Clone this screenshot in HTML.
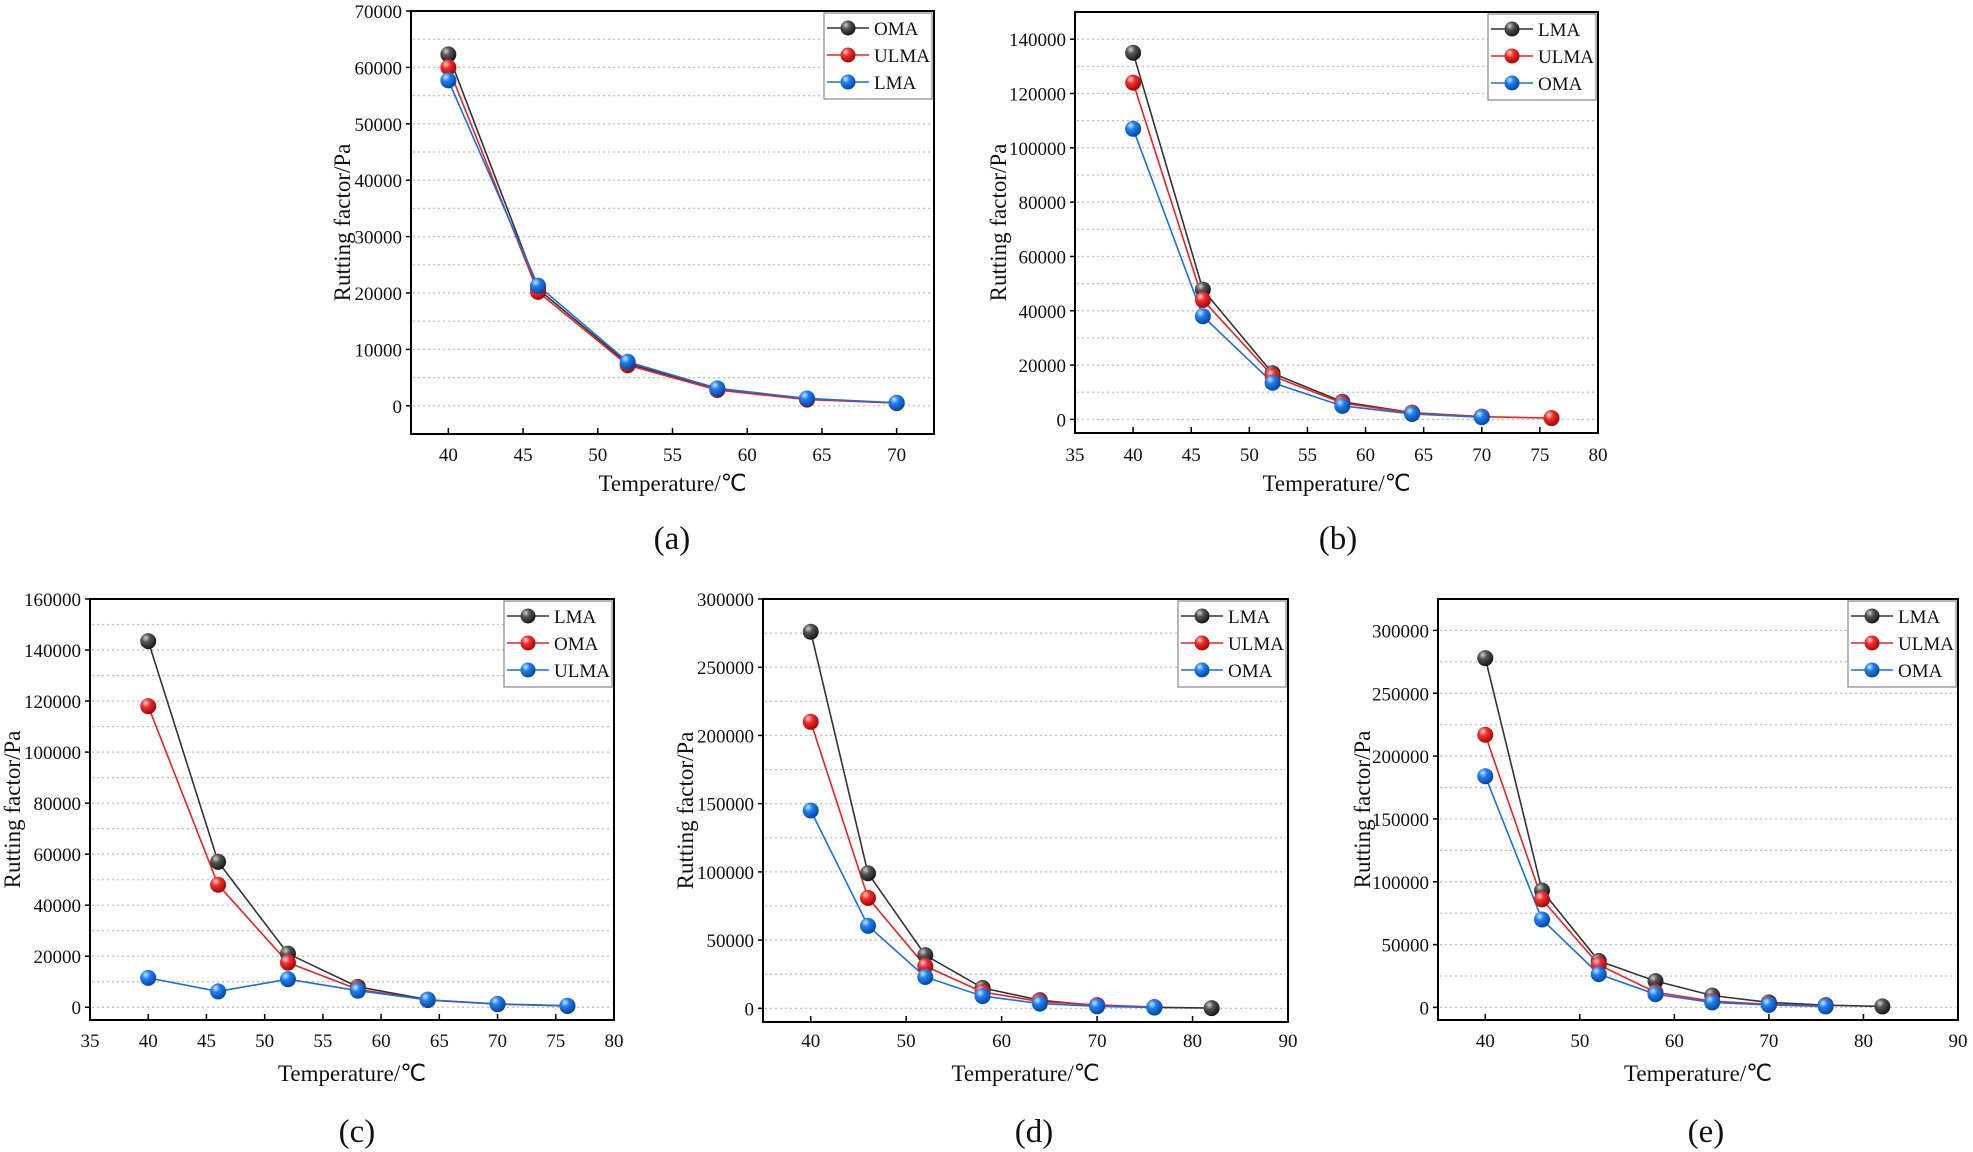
<!DOCTYPE html>
<html><head><meta charset="utf-8">
<style>
html,body{margin:0;padding:0;background:#fff;}
svg{display:block;font-family:"Liberation Serif",serif;}
</style></head>
<body>
<svg id="s" width="1973" height="1152" viewBox="0 0 1973 1152" xmlns="http://www.w3.org/2000/svg">
<defs>
<radialGradient id="gk" cx="0.35" cy="0.3" r="0.75"><stop offset="0" stop-color="#d0d0d0"/><stop offset="0.35" stop-color="#555"/><stop offset="1" stop-color="#111"/></radialGradient>
<radialGradient id="gr" cx="0.35" cy="0.3" r="0.75"><stop offset="0" stop-color="#ffd0d0"/><stop offset="0.35" stop-color="#f03030"/><stop offset="1" stop-color="#a00000"/></radialGradient>
<radialGradient id="gb" cx="0.35" cy="0.3" r="0.75"><stop offset="0" stop-color="#d0e4ff"/><stop offset="0.35" stop-color="#2080f0"/><stop offset="1" stop-color="#0040a0"/></radialGradient>
</defs>
</svg>
<script>
const S=document.getElementById('s');const NS='http://www.w3.org/2000/svg';
function el(t,a,txt){const e=document.createElementNS(NS,t);for(const k in a)e.setAttribute(k,a[k]);if(txt!==undefined)e.textContent=txt;S.appendChild(e);return e;}
const COL={k:['#333','gk'],r:['#f02020','gr'],b:['#1a6fe0','gb']};
const T=[40,46,52,58,64,70,76,82];
const P=[
{L:411,R:934,Tp:11,B:434,x0:37.5,x1:72.5,y0:-5000,y1:70000,yt:10000,gs:5000,xt:[40,45,50,55,60,65,70],yto:69,lab:'(a)',labx:672,laby:549,xty:461,xtt:491,
 s:[['OMA','k',[62300,20700,7500,2900,1200,500]],['ULMA','r',[60000,20200,7200,2800,1100,500]],['LMA','b',[57700,21300,7800,3100,1300,550]]]},
{L:1075,R:1598,Tp:12,B:433,x0:35,x1:80,y0:-5000,y1:150000,yt:20000,gs:10000,xt:[35,40,45,50,55,60,65,70,75,80],yto:77,lab:'(b)',labx:1338,laby:549,xty:461,xtt:491,
 s:[['LMA','k',[135000,47800,17000,6500,2500,1000]],['ULMA','r',[124000,44000,16000,6000,2400,1000,500]],['OMA','b',[107000,38000,13500,5000,2000,800]]]},
{L:90,R:614,Tp:599,B:1020,x0:35,x1:80,y0:-5000,y1:160000,yt:20000,gs:10000,xt:[35,40,45,50,55,60,65,70,75,80],yto:78,lab:'(c)',labx:357,laby:1142,xty:1047,xtt:1081,
 s:[['LMA','k',[143500,57000,21000,8000,3000]],['OMA','r',[118000,48000,17500,7000,2800,1200,500]],['ULMA','b',[11500,6200,11000,6500,2900,1300,600]]]},
{L:763,R:1288,Tp:599,B:1022,x0:35,x1:90,y0:-10000,y1:300000,yt:50000,gs:25000,xt:[40,50,60,70,80,90],yto:78,lab:'(d)',labx:1034,laby:1142,xty:1047,xtt:1081,
 s:[['LMA','k',[276000,99000,39000,15000,6000,2000,800,200]],['ULMA','r',[210000,81000,31000,12000,5000,2500,1000]],['OMA','b',[145000,60500,23000,9000,3500,1500,600]]]},
{L:1438,R:1958,Tp:599,B:1020,x0:35,x1:90,y0:-10000,y1:325000,yt:50000,gs:25000,xt:[40,50,60,70,80,90],yto:76,lab:'(e)',labx:1706,laby:1142,xty:1047,xtt:1081,
 s:[['LMA','k',[278000,93000,37000,21000,9500,4000,1800,800]],['ULMA','r',[217000,86000,34000,12000,5000,2500,1200]],['OMA','b',[184000,70000,26500,10500,4000,2000,800]]]}
];
P.forEach(p=>{
 const X=v=>p.L+(v-p.x0)/(p.x1-p.x0)*(p.R-p.L);
 const Y=v=>p.B-(v-p.y0)/(p.y1-p.y0)*(p.B-p.Tp);
 for(let g=0;g<p.y1;g+=p.gs){ if(g<=p.y0)continue; el('line',{x1:p.L+2,x2:p.R-2,y1:Y(g),y2:Y(g),stroke:'#bbb','stroke-width':1.2,'stroke-dasharray':'2,3'});}
 for(let g=0;g<=p.y1;g+=p.yt){el('line',{x1:p.L-5,x2:p.L,y1:Y(g),y2:Y(g),stroke:'#000','stroke-width':1.5});
  el('text',{x:p.L-9,y:Y(g)+7,'text-anchor':'end','font-size':19,fill:'#111'},String(g));}
 p.xt.forEach(v=>{el('line',{x1:X(v),x2:X(v),y1:p.B,y2:p.B-6,stroke:'#000','stroke-width':1.5});
  el('text',{x:X(v),y:p.xty,'text-anchor':'middle','font-size':19,fill:'#111'},String(v));});
 el('text',{x:(p.L+p.R)/2,y:p.xtt,'text-anchor':'middle','font-size':23,fill:'#111'},'Temperature/℃');
 el('text',{x:0,y:0,'text-anchor':'middle','font-size':23,fill:'#111',transform:`translate(${p.L-p.yto+8},${(p.Tp+p.B)/2}) rotate(-90)`},'Rutting factor/Pa');
 el('text',{x:p.labx,y:p.laby,'text-anchor':'middle','font-size':33,fill:'#111'},p.lab);
 p.s.forEach(s=>{const c=COL[s[1]];const pts=s[2].map((v,i)=>X(T[i])+','+Y(v)).join(' ');
  el('polyline',{points:pts,fill:'none',stroke:c[0],'stroke-width':1.6});});
 p.s.forEach(s=>{const c=COL[s[1]];s[2].forEach((v,i)=>el('circle',{cx:X(T[i]),cy:Y(v),r:8,fill:`url(#${c[1]})`}));});
 el('rect',{x:p.L,y:p.Tp,width:p.R-p.L,height:p.B-p.Tp,fill:'none',stroke:'#000','stroke-width':2});
 const lw=108,lh=86,lx=p.R-lw-2,ly=p.Tp+2;
 el('rect',{x:lx,y:ly,width:lw,height:lh,fill:'#fff',stroke:'#888','stroke-width':1.2});
 p.s.forEach((s,i)=>{const c=COL[s[1]];const yy=ly+15+i*27;
  el('line',{x1:lx+3,x2:lx+45,y1:yy,y2:yy,stroke:c[0],'stroke-width':1.6});
  el('circle',{cx:lx+24,cy:yy,r:7.5,fill:`url(#${c[1]})`});
  el('text',{x:lx+50,y:yy+7,'font-size':19,fill:'#111'},s[0]);});
});
</script>
</body></html>
